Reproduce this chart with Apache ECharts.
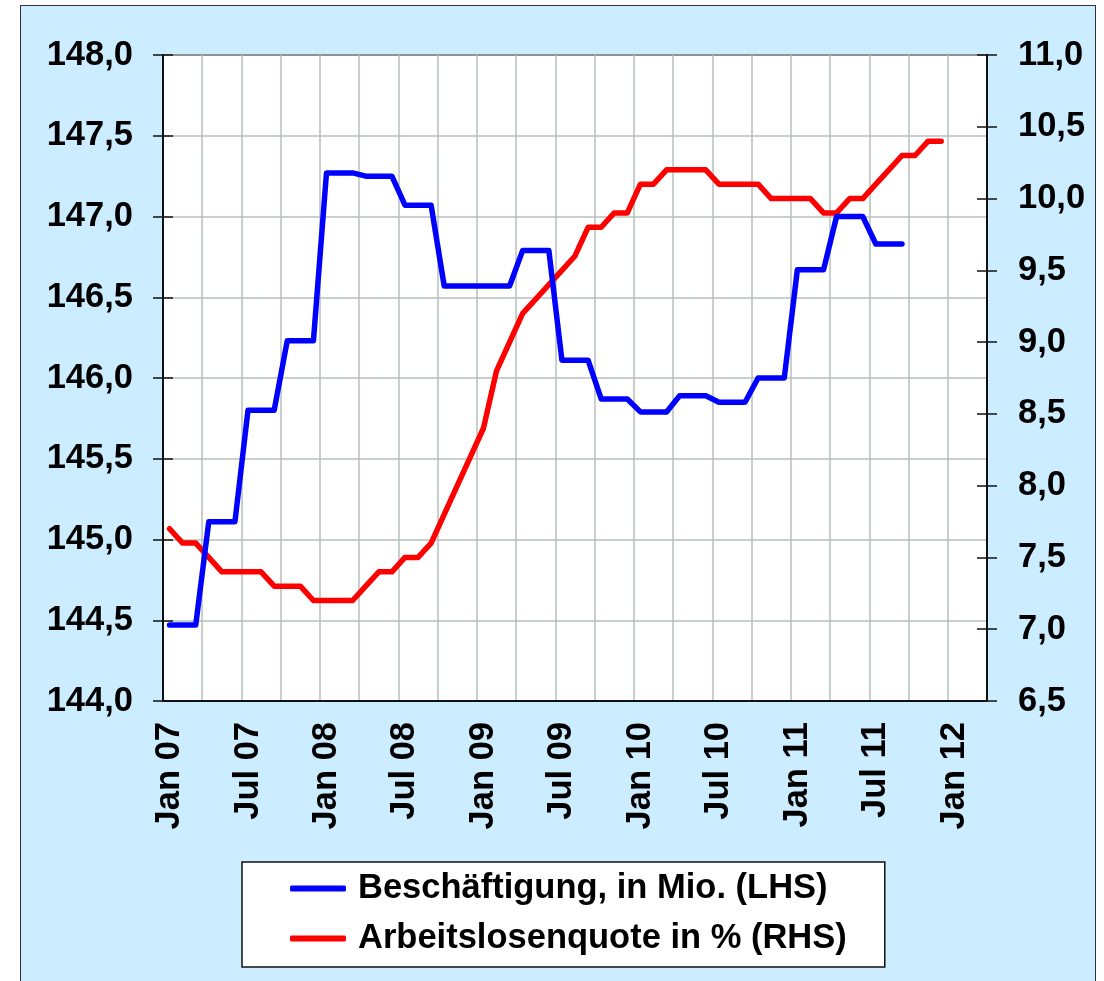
<!DOCTYPE html>
<html>
<head>
<meta charset="utf-8">
<title>Beschäftigung und Arbeitslosenquote</title>
<script src="https://cdn.jsdelivr.net/npm/echarts@6/dist/echarts.min.js"></script>
<style>
    html, body { margin: 0; padding: 0; background: #fff; }
    .frame { position: absolute; left: 20px; top: 5px; width: 1074px; height: 990px; background: #ccecff; border: 1px solid #333; }
    .chart { position: absolute; left: 0; top: 0; width: 1104px; height: 981px; }
</style>
</head>
<body>
<div class="frame"></div>
<div class="chart" id="main"></div>
<script>
// Monatsachse Jan 07 - Mär 12 (63 Monate)
const years = ['07', '08', '09', '10', '11', '12'];
const monthNames = ['Jan', 'Feb', 'Mär', 'Apr', 'Mai', 'Jun', 'Jul', 'Aug', 'Sep', 'Okt', 'Nov', 'Dez'];
let months = [];
years.forEach(function (y) {
    monthNames.forEach(function (m) { months.push(m + ' ' + y); });
});
months = months.slice(0, 63);

const seriesNames = ['Beschäftigung, in Mio. (LHS)', 'Arbeitslosenquote in % (RHS)'];

// Beschäftigung in Mio. (Quartalswerte je Monat), Jan 07 - Sep 11
const employment = [
    144.47, 144.47, 144.47, 145.11, 145.11, 145.11, 145.80, 145.80, 145.80,
    146.23, 146.23, 146.23, 147.27, 147.27, 147.27, 147.25, 147.25, 147.25,
    147.07, 147.07, 147.07, 146.57, 146.57, 146.57, 146.57, 146.57, 146.57,
    146.79, 146.79, 146.79, 146.11, 146.11, 146.11, 145.87, 145.87, 145.87,
    145.79, 145.79, 145.79, 145.89, 145.89, 145.89, 145.85, 145.85, 145.85,
    146.00, 146.00, 146.00, 146.67, 146.67, 146.67, 147.00, 147.00, 147.00,
    146.83, 146.83, 146.83
];

// Arbeitslosenquote in %, Jan 07 - Dez 11
const unemployment = [
    7.7, 7.6, 7.6, 7.5, 7.4, 7.4, 7.4, 7.4, 7.3, 7.3, 7.3, 7.2,
    7.2, 7.2, 7.2, 7.3, 7.4, 7.4, 7.5, 7.5, 7.6, 7.8, 8.0, 8.2,
    8.4, 8.8, 9.0, 9.2, 9.3, 9.4, 9.5, 9.6, 9.8, 9.8, 9.9, 9.9,
    10.1, 10.1, 10.2, 10.2, 10.2, 10.2, 10.1, 10.1, 10.1, 10.1, 10.0, 10.0,
    10.0, 10.0, 9.9, 9.9, 10.0, 10.0, 10.1, 10.2, 10.3, 10.3, 10.4, 10.4
];

// Achsenskalen
const leftMin = 144, leftMax = 148;
const rightMin = 6.5, rightMax = 11;
const step = 0.5;

(function () {
    let myChart = echarts.init(document.getElementById('main'));
    let font = 'Liberation Sans, Arial, sans-serif';
    let labelStyle = { color: '#000', fontFamily: font, fontWeight: 'bold', fontSize: 34.5 };
    let tickLine = { color: '#111', width: 1.5 };
    let gridLine = { color: '#b5c1bd', width: 1.5 };
    let fmt = function (v) { return v.toFixed(1).replace('.', ','); };

    let option = {
        animation: false,
        grid: {
            left: 163, right: 117, top: 55, bottom: 280,
            show: true,
            backgroundColor: '#fff',
            borderColor: '#111',
            borderWidth: 2
        },
        legend: {
            data: seriesNames,
            orient: 'vertical',
            left: 242,
            top: 862,
            backgroundColor: '#fff',
            borderColor: '#111',
            borderWidth: 1.5,
            padding: [9, 38, 11, 48],
            itemGap: 15,
            itemWidth: 56,
            itemHeight: 6,
            icon: 'roundRect',
            textStyle: Object.assign({ padding: [0, 0, 0, 7] }, labelStyle)
        },
        xAxis: [
            {
                type: 'category',
                data: months,
                boundaryGap: true,
                axisLine: { lineStyle: { color: '#111', width: 2 } },
                axisTick: { interval: 2, length: 10, lineStyle: tickLine },
                axisLabel: Object.assign({ interval: 5, rotate: 90, margin: 21 }, labelStyle),
                splitLine: { show: true, interval: 2, lineStyle: gridLine }
            },
            {
                // nur Striche nach innen
                type: 'category',
                data: months,
                position: 'bottom',
                boundaryGap: true,
                axisLine: { show: false },
                axisTick: { inside: true, interval: 2, length: 10, lineStyle: tickLine },
                axisLabel: { show: false },
                splitLine: { show: false }
            }
        ],
        yAxis: [
            {
                type: 'value',
                position: 'left',
                min: leftMin, max: leftMax, interval: step,
                axisLine: { show: true, lineStyle: { color: '#111', width: 2 } },
                axisTick: { show: true, length: 10, lineStyle: tickLine },
                axisLabel: Object.assign({ margin: 30, formatter: fmt }, labelStyle),
                splitLine: { show: true, lineStyle: gridLine }
            },
            {
                type: 'value',
                position: 'right',
                min: rightMin, max: rightMax, interval: step,
                axisLine: { show: true, lineStyle: { color: '#111', width: 2 } },
                axisTick: { show: true, length: 10, lineStyle: tickLine },
                axisLabel: Object.assign({ margin: 31, formatter: fmt }, labelStyle),
                splitLine: { show: false }
            },
            {
                type: 'value',
                position: 'left',
                min: leftMin, max: leftMax, interval: step,
                axisLine: { show: false },
                axisTick: { show: true, inside: true, length: 10, lineStyle: tickLine },
                axisLabel: { show: false },
                splitLine: { show: false }
            },
            {
                type: 'value',
                position: 'right',
                min: rightMin, max: rightMax, interval: step,
                axisLine: { show: false },
                axisTick: { show: true, inside: true, length: 10, lineStyle: tickLine },
                axisLabel: { show: false },
                splitLine: { show: false }
            }
        ],
        series: [
            {
                name: seriesNames[1],
                type: 'line',
                yAxisIndex: 1,
                data: unemployment,
                symbol: 'none',
                itemStyle: { color: '#ff0000' },
                lineStyle: { color: '#ff0000', width: 5.5, cap: 'round', join: 'round' }
            },
            {
                name: seriesNames[0],
                type: 'line',
                yAxisIndex: 0,
                data: employment,
                symbol: 'none',
                itemStyle: { color: '#0000ff' },
                lineStyle: { color: '#0000ff', width: 5.5, cap: 'round', join: 'round' }
            }
        ]
    };
    myChart.setOption(option);
    window.addEventListener('resize', function () {
        myChart.resize();
    })
})();
</script>
</body>
</html>
